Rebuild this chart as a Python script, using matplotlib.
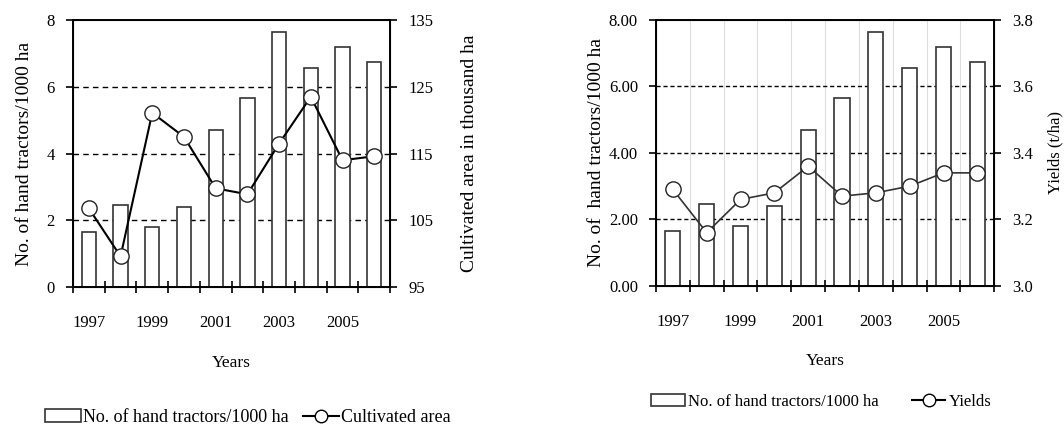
import numpy as np
import matplotlib
matplotlib.use("Agg")
import matplotlib.pyplot as plt
from matplotlib.patches import Patch
from matplotlib.lines import Line2D

plt.rcParams['font.family'] = ['Liberation Serif', 'DejaVu Serif']

years = [1997, 1998, 1999, 2000, 2001, 2002, 2003, 2004, 2005, 2006]
tractors = [1.65, 2.45, 1.8, 2.4, 4.7, 5.65, 7.65, 6.55, 7.2, 6.75]
cultivated_area = [106.8, 99.6, 121.1, 117.5, 109.8, 108.9, 116.5, 123.5, 114.0, 114.6]
yields = [3.29, 3.16, 3.26, 3.28, 3.36, 3.27, 3.28, 3.30, 3.34, 3.34]
year_labels = ["1997", "", "1999", "", "2001", "", "2003", "", "2005", ""]

fig = plt.figure(figsize=(10.64, 4.26), dpi=100)

def setup_panel(ax, yticks, yticklabels, ax2, y2lim, y2ticks, y2labels, grid_style):
    x = np.arange(len(years))
    ax.bar(x, tractors, width=0.45, color="white", edgecolor="#333333", linewidth=1.2, zorder=2)
    ax.set_xlim(-0.5, len(years) - 0.5)
    ax.set_ylim(0, 8)
    ax.set_yticks(yticks)
    ax.set_yticklabels(yticklabels, fontsize=12)
    for v in yticks[1:-1]:
        ax.axhline(v, color="black", linestyle=grid_style, linewidth=1.0, zorder=1)
    ax.set_xticks(np.arange(-0.5, len(years), 1.0))
    ax.set_xticklabels([])
    ax.set_xticks(x, minor=True)
    ax.set_xticklabels(year_labels, minor=True, fontsize=12)
    ax.tick_params(axis="x", which="minor", length=0, pad=20)
    ax.tick_params(axis="x", which="major", direction="inout", length=8, width=1.2)
    ax.tick_params(axis="y", direction="out", length=5, width=1.2, pad=8)
    for s in ax.spines.values():
        s.set_linewidth(1.4)
    ax2.set_ylim(*y2lim)
    ax2.set_yticks(y2ticks)
    ax2.set_yticklabels(y2labels, fontsize=12)
    ax2.tick_params(axis="y", direction="out", length=5, width=1.2, pad=8)
    ax.set_xlabel("Years", fontsize=12.5, labelpad=17)
    return x

# left panel
ax1 = fig.add_axes([0.0686, 0.326, 0.298, 0.627])
ax1b = ax1.twinx()
x = setup_panel(ax1, [0, 2, 4, 6, 8], ["0", "2", "4", "6", "8"],
                ax1b, (95, 135), [95, 105, 115, 125, 135],
                ["95", "105", "115", "125", "135"], (0, (4, 3)))
ax1b.plot(x, cultivated_area, color="black", linewidth=1.5, marker="o", markersize=11,
          markerfacecolor="white", markeredgecolor="#222222", zorder=5)
ax1.set_ylabel("No. of hand tractors/1000 ha", fontsize=14, labelpad=10)
ax1b.set_ylabel("Cultivated area in thousand ha", fontsize=14, labelpad=20)

# right panel
ax2 = fig.add_axes([0.6165, 0.329, 0.318, 0.624])
ax2b = ax2.twinx()
x = setup_panel(ax2, [0, 2, 4, 6, 8], ["0.00", "2.00", "4.00", "6.00", "8.00"],
                ax2b, (3.0, 3.8), [3.0, 3.2, 3.4, 3.6, 3.8],
                ["3.0", "3.2", "3.4", "3.6", "3.8"], (0, (3, 2)))
for b in np.arange(0.5, len(years) - 0.5, 1.0):
    ax2.axvline(b, color="#dddddd", linewidth=0.8, zorder=0)
ax2b.plot(x, yields, color="#333333", linewidth=1.2, marker="o", markersize=11,
          markerfacecolor="white", markeredgecolor="#222222", zorder=5)
ax2.set_ylabel("No. of  hand tractors/1000 ha", fontsize=14, labelpad=3)
ax2b.set_ylabel("Yields (t/ha)", fontsize=12, labelpad=10)

bar_handle = Patch(facecolor="white", edgecolor="#333333", linewidth=1.2)
fig.legend([bar_handle, Line2D([], [], color="black", marker="o", markersize=9,
                               markerfacecolor="white")],
           ["No. of hand tractors/1000 ha", "Cultivated area"],
           loc="center", bbox_to_anchor=(0.233, 0.02), ncol=2, frameon=False,
           fontsize=13, handlelength=2.0, handletextpad=0.1, columnspacing=0.8)
fig.legend([bar_handle, Line2D([], [], color="black", marker="o", markersize=9,
                               markerfacecolor="white")],
           ["No. of hand tractors/1000 ha", "Yields"],
           loc="center", bbox_to_anchor=(0.772, 0.057), ncol=2, frameon=False,
           fontsize=12, handlelength=2.0, handletextpad=0.2, columnspacing=2.0)

fig.savefig("out.png", dpi=100)
